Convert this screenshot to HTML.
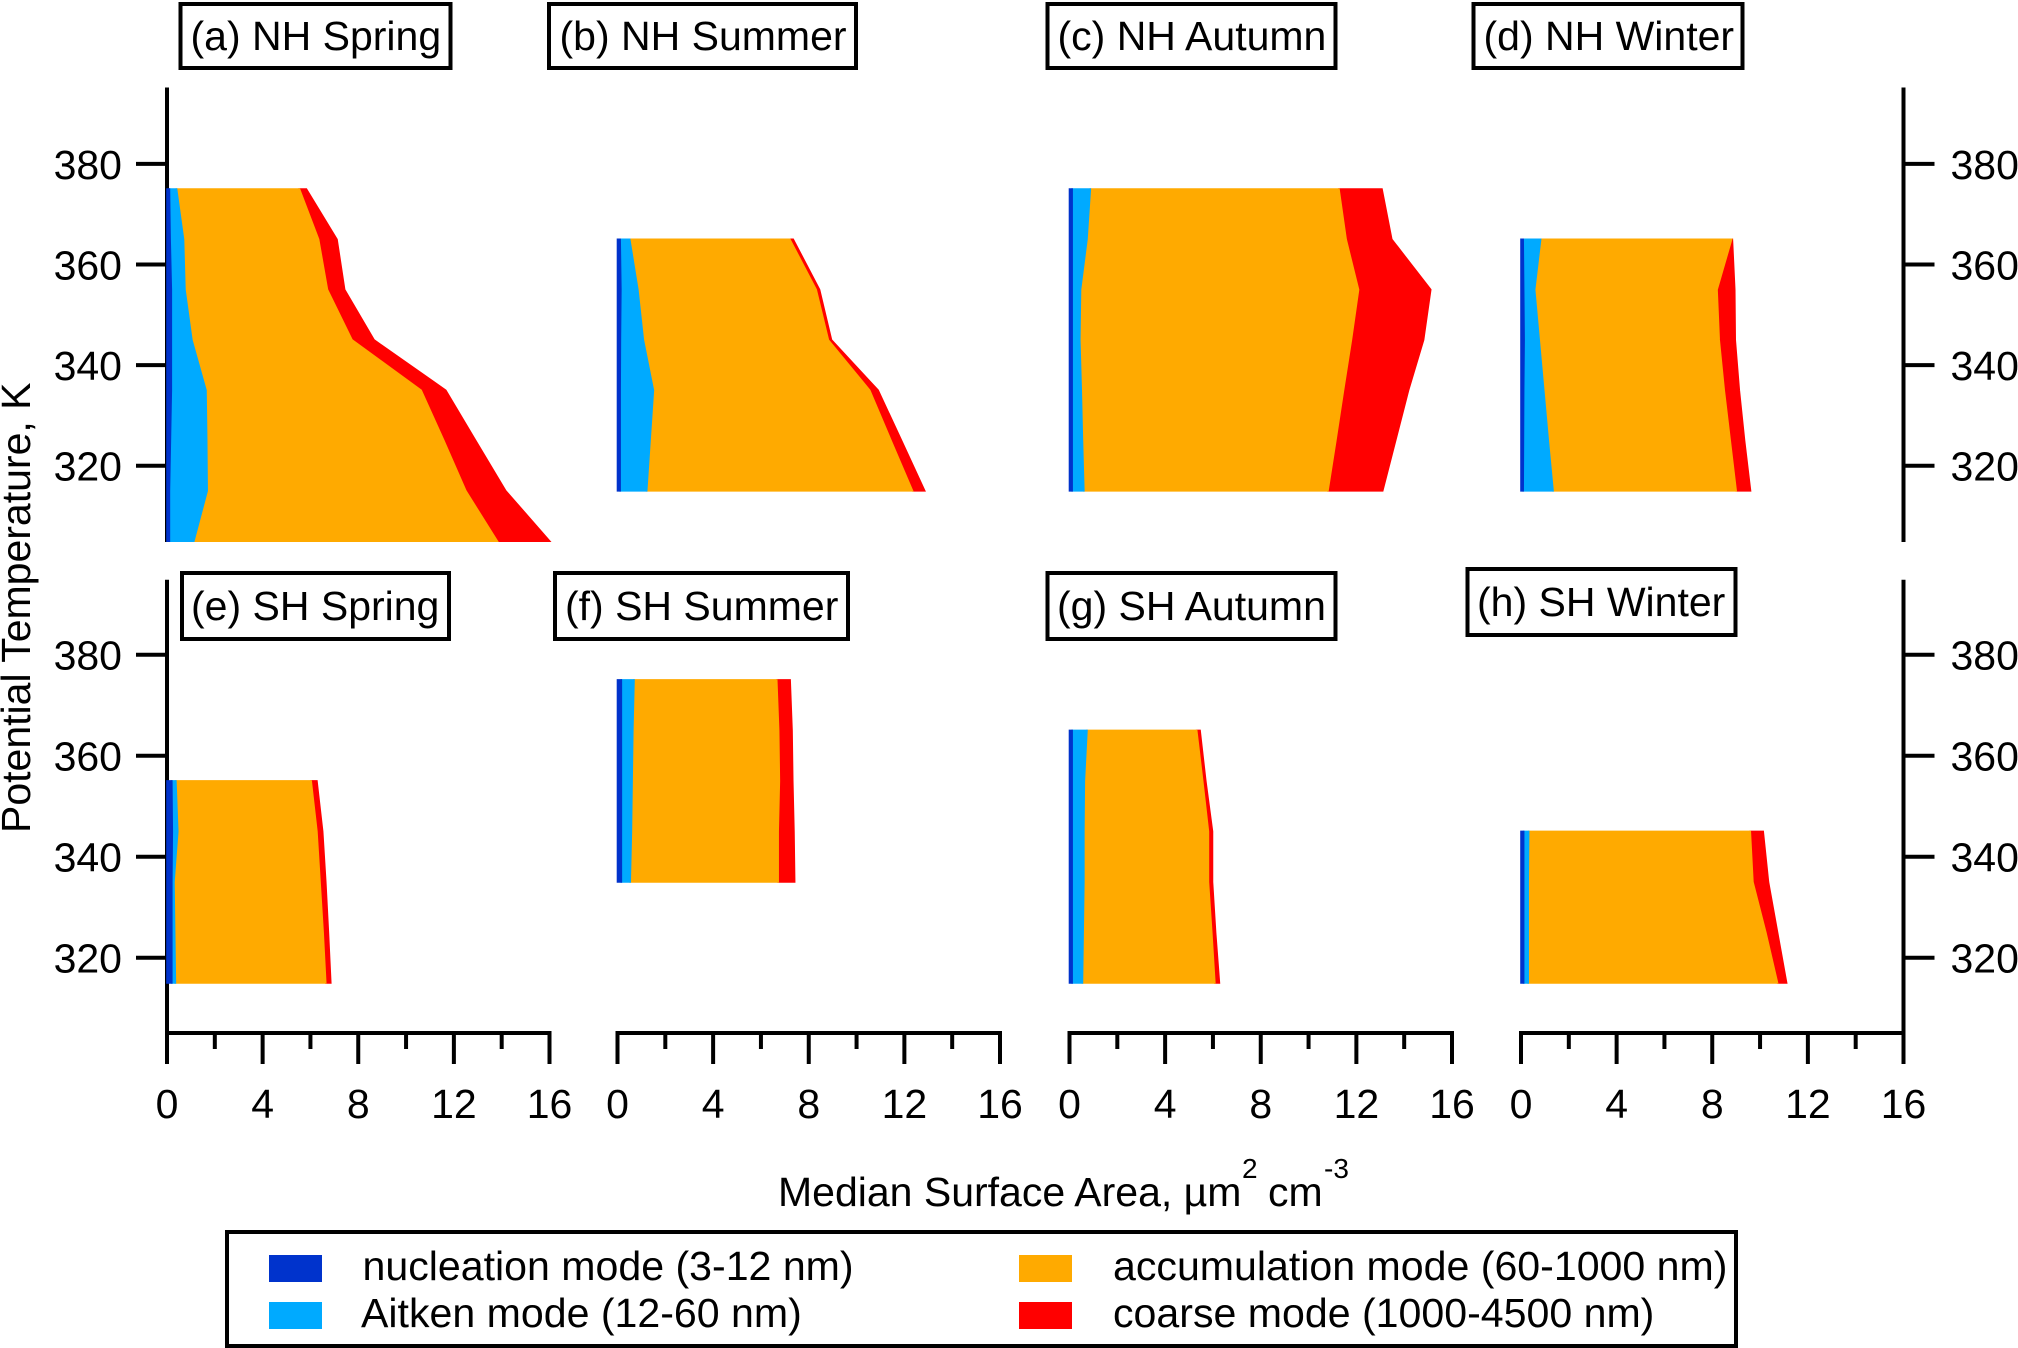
<!DOCTYPE html>
<html lang="en">
<head>
<meta charset="utf-8">
<title>Median Surface Area by Mode</title>
<style>
html,body{margin:0;padding:0;background:#fff;}
svg{display:block;}
text{font-family:"Liberation Sans",Arial,sans-serif;fill:#000;font-size:41px;}
</style>
</head>
<body>
<svg id="chart" xmlns="http://www.w3.org/2000/svg" width="2018" height="1348" viewBox="0 0 2018 1348">
<rect x="0" y="0" width="2018" height="1348" fill="#fff"/>
<g id="axes"></g>
<g id="marks"></g>

<g><rect x="180.5" y="4" width="270" height="64" fill="#fff" stroke="#000" stroke-width="4"/><text x="190.5" y="50">(a) NH Spring</text></g>
<g><rect x="549" y="4" width="307" height="64" fill="#fff" stroke="#000" stroke-width="4"/><text x="559.5" y="50">(b) NH Summer</text></g>
<g><rect x="1047.5" y="4" width="288" height="64" fill="#fff" stroke="#000" stroke-width="4"/><text x="1057.5" y="50">(c) NH Autumn</text></g>
<g><rect x="1473.5" y="4" width="269" height="64" fill="#fff" stroke="#000" stroke-width="4"/><text x="1483.5" y="50">(d) NH Winter</text></g>
<g><rect x="182" y="573" width="267" height="66" fill="#fff" stroke="#000" stroke-width="4"/><text x="191" y="620">(e) SH Spring</text></g>
<g><rect x="555" y="573" width="293" height="66" fill="#fff" stroke="#000" stroke-width="4"/><text x="565" y="620">(f) SH Summer</text></g>
<g><rect x="1047.5" y="573" width="288" height="66" fill="#fff" stroke="#000" stroke-width="4"/><text x="1057" y="620">(g) SH Autumn</text></g>
<g><rect x="1467.5" y="569" width="268" height="66" fill="#fff" stroke="#000" stroke-width="4"/><text x="1477" y="616">(h) SH Winter</text></g>

<text transform="translate(30,833) rotate(-90)">Potential Temperature, K</text>
<g>
<text x="778" y="1206">Median Surface Area, µm</text>
<text x="1242" y="1178" style="font-size:28px">2</text>
<text x="1268" y="1206">cm</text>
<text x="1324" y="1178" style="font-size:28px">-3</text>
</g>

<g>
<rect x="227" y="1232" width="1509" height="114" fill="#fff" stroke="#000" stroke-width="4"/>
<rect x="269" y="1255" width="53" height="27" fill="#0033cc"/>
<text x="362.5" y="1280" style="font-size:41.1px">nucleation mode (3-12 nm)</text>
<rect x="269" y="1302" width="53" height="27" fill="#00aaff"/>
<text x="361" y="1327" style="font-size:41.1px">Aitken mode (12-60 nm)</text>
<rect x="1019" y="1255" width="53" height="27" fill="#ffaa00"/>
<text x="1113" y="1280" style="font-size:41.1px">accumulation mode (60-1000 nm)</text>
<rect x="1019" y="1302" width="53" height="27" fill="#ff0000"/>
<text x="1113" y="1327" style="font-size:41.1px">coarse mode (1000-4500 nm)</text>
</g>
</svg>

<script>
// Axis tick values
const yTickValues = [380, 360, 340, 320];
const xTickValues = [0, 2, 4, 6, 8, 10, 12, 14, 16];
const xTickLabels = ["0", "", "4", "", "8", "", "12", "", "16"];

// (a) NH Spring
const thetaA = [375, 365, 355, 345, 335, 325, 315, 305];
const nucA = [0.10, 0.13, 0.18, 0.18, 0.18, 0.14, 0.10, 0.10];
const aitA = [0.30, 0.56, 0.57, 0.86, 1.45, 1.52, 1.58, 1.02];
const accA = [5.14, 5.65, 5.96, 6.70, 9.00, 9.92, 10.82, 12.70];
const coaA = [0.29, 0.77, 0.72, 0.92, 1.03, 1.33, 1.67, 2.19];

// (b) NH Summer
const thetaB = [365, 355, 345, 335, 325, 315];
const nucB = [0.11, 0.14, 0.12, 0.11, 0.11, 0.11];
const aitB = [0.40, 0.71, 0.96, 1.39, 1.25, 1.11];
const accB = [6.70, 7.46, 7.74, 9.05, 10.08, 11.12];
const coaB = [0.14, 0.14, 0.13, 0.35, 0.44, 0.51];

// (c) NH Autumn
const thetaC = [375, 365, 355, 345, 335, 325, 315];
const nucC = [0.11, 0.11, 0.11, 0.11, 0.11, 0.11, 0.11];
const aitC = [0.76, 0.62, 0.35, 0.32, 0.38, 0.43, 0.49];
const accC = [10.40, 10.84, 11.63, 11.36, 10.97, 10.60, 10.21];
const coaC = [1.80, 1.91, 3.02, 3.02, 2.72, 2.50, 2.29];

// (d) NH Winter
const thetaD = [365, 355, 345, 335, 325, 315];
const nucD = [0.09, 0.11, 0.13, 0.11, 0.10, 0.09];
const aitD = [0.73, 0.46, 0.63, 0.84, 1.04, 1.25];
const accD = [7.99, 7.63, 7.53, 7.55, 7.61, 7.66];
const coaD = [0.03, 0.74, 0.67, 0.63, 0.60, 0.60];

// (e) SH Spring
const thetaE = [355, 345, 335, 325, 315];
const nucE = [0.20, 0.22, 0.20, 0.20, 0.20];
const aitE = [0.17, 0.23, 0.09, 0.12, 0.15];
const accE = [5.66, 5.82, 6.11, 6.21, 6.29];
const coaE = [0.24, 0.24, 0.24, 0.22, 0.21];

// (f) SH Summer
const thetaF = [375, 365, 355, 345, 335];
const nucF = [0.16, 0.16, 0.16, 0.16, 0.16];
const aitF = [0.53, 0.48, 0.45, 0.42, 0.37];
const accF = [5.97, 6.10, 6.16, 6.14, 6.19];
const coaF = [0.56, 0.56, 0.56, 0.66, 0.69];

// (g) SH Autumn
const thetaG = [365, 355, 345, 335, 325, 315];
const nucG = [0.11, 0.11, 0.11, 0.11, 0.11, 0.11];
const aitG = [0.62, 0.51, 0.49, 0.49, 0.46, 0.43];
const accG = [4.59, 4.95, 5.21, 5.21, 5.38, 5.54];
const coaG = [0.14, 0.13, 0.17, 0.17, 0.16, 0.19];

// (h) SH Winter
const thetaH = [345, 335, 325, 315];
const nucH = [0.11, 0.11, 0.11, 0.11];
const aitH = [0.21, 0.19, 0.19, 0.19];
const accH = [9.27, 9.40, 9.94, 10.43];
const coaH = [0.54, 0.65, 0.49, 0.38];

const SVGNS = "http://www.w3.org/2000/svg";
const axesLayer = document.getElementById("axes");
const marksLayer = document.getElementById("marks");

// Layout of the small-multiple grid
const colOrigins = [167, 617.5, 1069.5, 1521];
const plotWidth = 382.5;
const xMax = 16;
const rows = [
  {y380: 163.9, pxPerK: 5.03, top: 87.5, bottom: 542},
  {y380: 654.7, pxPerK: 5.05, top: 579.7, bottom: 1035}
];
const xAxisY = 1033;
const rightAxisX = 1903.5;

function xPos(col, v) {
  return colOrigins[col] + v / xMax * plotWidth;
}
function yPos(row, theta) {
  return rows[row].y380 + (380 - theta) * rows[row].pxPerK;
}
function makeLine(x1, y1, x2, y2, w) {
  const l = document.createElementNS(SVGNS, "line");
  l.setAttribute("x1", x1);
  l.setAttribute("y1", y1);
  l.setAttribute("x2", x2);
  l.setAttribute("y2", y2);
  l.setAttribute("stroke", "#000");
  l.setAttribute("stroke-width", w);
  return l;
}
function makeText(x, y, str, anchor) {
  const t = document.createElementNS(SVGNS, "text");
  t.setAttribute("x", x);
  t.setAttribute("y", y);
  t.setAttribute("text-anchor", anchor);
  t.textContent = str;
  return t;
}

// Vertical axes and their ticks
rows.forEach(function (r, rowIndex) {
  const leftAxis = makeLine(colOrigins[0], r.top, colOrigins[0], r.bottom, 4);
  
  
  axesLayer.appendChild(leftAxis);
  const rightAxis = makeLine(rightAxisX, r.top, rightAxisX, r.bottom, 4);
  
  
  axesLayer.appendChild(rightAxis);
  yTickValues.forEach(function (v) {
    const y = yPos(rowIndex, v);
    const tl = makeLine(colOrigins[0] - 31, y, colOrigins[0], y, 4);
    
    
    axesLayer.appendChild(tl);
    const tr = makeLine(rightAxisX, y, rightAxisX + 31, y, 4);
    
    
    axesLayer.appendChild(tr);
    const ll = makeText(122, y + 15, String(v), "end");
    
    
    axesLayer.appendChild(ll);
    const lr = makeText(1950.5, y + 15, String(v), "start");
    
    
    axesLayer.appendChild(lr);
  });
});

// Horizontal axes along the bottom row
colOrigins.forEach(function (x0, col) {
  const base = makeLine(x0 - 2, xAxisY, x0 + plotWidth + 2, xAxisY, 4);
  
  
  axesLayer.appendChild(base);
  xTickValues.forEach(function (v, i) {
    const x = xPos(col, v);
    const major = xTickLabels[i] !== "";
    const tick = makeLine(x, xAxisY, x, major ? 1064 : 1049, 4);
    
    
    axesLayer.appendChild(tick);
    if (major) {
      const lab = makeText(x, 1118, xTickLabels[i], "middle");
      
      
      axesLayer.appendChild(lab);
    }
  });
});

// Stacked bands, one panel at a time
const panels = [
  {name: "a", col: 0, row: 0, theta: thetaA, modes: [nucA, aitA, accA, coaA]},
  {name: "b", col: 1, row: 0, theta: thetaB, modes: [nucB, aitB, accB, coaB]},
  {name: "c", col: 2, row: 0, theta: thetaC, modes: [nucC, aitC, accC, coaC]},
  {name: "d", col: 3, row: 0, theta: thetaD, modes: [nucD, aitD, accD, coaD]},
  {name: "e", col: 0, row: 1, theta: thetaE, modes: [nucE, aitE, accE, coaE]},
  {name: "f", col: 1, row: 1, theta: thetaF, modes: [nucF, aitF, accF, coaF]},
  {name: "g", col: 2, row: 1, theta: thetaG, modes: [nucG, aitG, accG, coaG]},
  {name: "h", col: 3, row: 1, theta: thetaH, modes: [nucH, aitH, accH, coaH]}
];
const modeNames = ["nucleation", "aitken", "accumulation", "coarse"];
const modeColors = ["#0033cc", "#00aaff", "#ffaa00", "#ff0000"];

panels.forEach(function (p) {
  const n = p.theta.length;
  const lower = [];
  for (let i = 0; i < n; i++) lower.push(0);
  const bands = [];
  p.modes.forEach(function (vals, m) {
    const upper = vals.map(function (v, i) { return lower[i] + v; });
    const pts = [];
    for (let i = 0; i < n; i++) pts.push(xPos(p.col, upper[i]).toFixed(2) + "," + yPos(p.row, p.theta[i]).toFixed(2));
    for (let i = n - 1; i >= 0; i--) pts.push(xPos(p.col, lower[i]).toFixed(2) + "," + yPos(p.row, p.theta[i]).toFixed(2));
    bands.push({m: m, pts: pts.join(" ")});
    for (let i = 0; i < n; i++) lower[i] = upper[i];
  });
  // Coarse first so finer modes sit on top of the shared edges
  bands.reverse().forEach(function (b) {
    const poly = document.createElementNS(SVGNS, "polygon");
    poly.setAttribute("points", b.pts);
    poly.setAttribute("fill", modeColors[b.m]);
    poly.setAttribute("stroke", modeColors[b.m]);
    poly.setAttribute("stroke-width", "1.6");
    poly.setAttribute("stroke-linejoin", "miter");
    
    
    marksLayer.appendChild(poly);
  });
});
</script>
</body>
</html>
